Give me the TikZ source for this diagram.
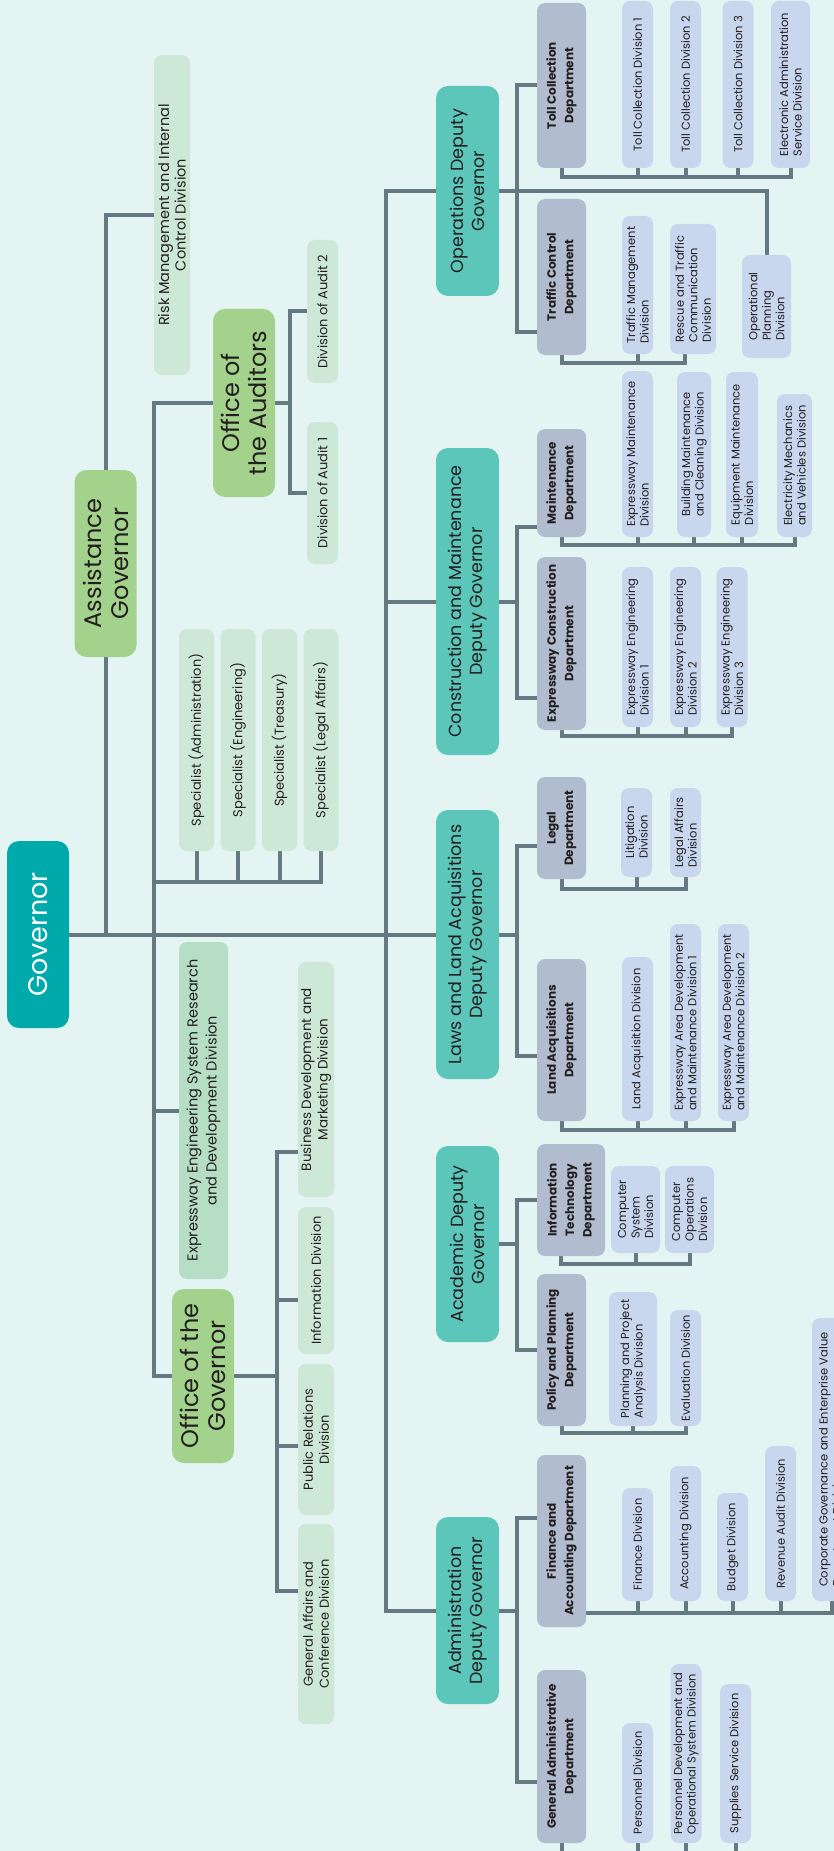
\documentclass[tikz,border=0pt]{standalone}
\usepackage{fontspec}
\setmainfont{Poppins}
\usetikzlibrary{backgrounds}

\definecolor{bgc}{HTML}{E4F4F2}
\definecolor{linec}{HTML}{657983}
\definecolor{govc}{HTML}{00AAAA}
\definecolor{depc}{HTML}{5CC6BB}
\definecolor{offc}{HTML}{A2D28B}
\definecolor{staffc}{HTML}{CEE8D7}
\definecolor{esrc}{HTML}{B6DEC4}
\definecolor{deptc}{HTML}{B1BCCE}
\definecolor{divc}{HTML}{C8D6EE}
\definecolor{textc}{HTML}{231F20}

\begin{document}
\begin{tikzpicture}[x=1pt, y=-1pt,
	link/.style={draw=linec, line width=4pt},
	box/.style={rectangle, rotate=90, rounded corners=8pt, inner sep=2pt, text=textc},
	gov node/.style={box, fill=govc, text=white, rounded corners=12pt, minimum height=62pt, font=\fontsize{27}{30}\selectfont},
	deputy node/.style={box, fill=depc, rounded corners=12pt, minimum height=63pt, align=center, font=\fontsize{17.5}{21}\selectfont},
	office node/.style={box, fill=offc, rounded corners=12pt, minimum height=62pt, align=center, font=\fontsize{24}{27}\selectfont},
	dept node/.style={box, fill=deptc, minimum height=49pt, align=center, font=\bfseries\fontsize{12}{17.5}\selectfont},
	div node/.style={box, fill=divc, minimum height=31pt, align=left, font=\fontsize{11.5}{13.5}\selectfont},
	staff node/.style={box, fill=staffc, minimum height=36pt, align=center, font=\fontsize{13}{16}\selectfont}]

	\useasboundingbox (0,0) rectangle (834,1851);

	% top level
	\node[gov node, minimum width=187pt] (gov) at (38,934.5) {Governor};
	\node[office node, minimum width=187pt] (asst) at (105.5,563.5) {Assistance\\Governor};
	\node[staff node, minimum width=320pt, font=\fontsize{14.5}{16.5}\selectfont] (risk) at (172,215) {Risk Management and Internal\\Control Division};
	\node[office node, minimum width=188pt] (aud) at (244,403) {Office of\\the Auditors};
	\node[staff node, minimum width=143pt, minimum height=31pt] (aud2) at (322.5,311.5) {Division of Audit 2};
	\node[staff node, minimum width=142pt, minimum height=31pt] (aud1) at (322.5,493) {Division of Audit 1};
	\node[staff node, minimum width=222pt, minimum height=35pt] (spec1) at (196.5,740) {Specialist (Administration)};
	\node[staff node, minimum width=222pt, minimum height=35pt] (spec2) at (238,740) {Specialist (Engineering)};
	\node[staff node, minimum width=222pt, minimum height=35pt] (spec3) at (279.5,740) {Specialist (Treasury)};
	\node[staff node, minimum width=222pt, minimum height=35pt] (spec4) at (321,740) {Specialist (Legal Affairs)};
	\node[staff node, fill=esrc, minimum width=337pt, minimum height=49pt, font=\fontsize{14.5}{19}\selectfont] (esr) at (203.5,1110.5) {Expressway Engineering System Research\\and Development Division};
	\node[office node, minimum width=174pt] (ogov) at (203,1376) {Office of the\\Governor};
	\node[staff node, minimum width=235pt, font=\fontsize{13.5}{16.5}\selectfont] (bdm) at (316,1079.5) {Business Development and\\Marketing Division};
	\node[staff node, minimum width=147pt] (inf) at (316,1280.5) {Information Division};
	\node[staff node, minimum width=151pt] (prd) at (316,1439.5) {Public Relations\\Division};
	\node[staff node, minimum width=200pt] (gac) at (316,1624) {General Affairs and\\Conference Division};

	% deputy governors
	\node[deputy node, minimum width=210pt] (ops) at (467.5,191) {Operations Deputy\\Governor};
	\node[deputy node, minimum width=307pt] (con) at (467.5,601.5) {Construction and Maintenance\\Deputy Governor};
	\node[deputy node, minimum width=269pt] (laws) at (467.5,944.5) {Laws and Land Acquisitions\\Deputy Governor};
	\node[deputy node, minimum width=196pt] (aca) at (467.5,1244) {Academic Deputy\\Governor};
	\node[deputy node, minimum width=187pt] (adm) at (467.5,1610.5) {Administration\\Deputy Governor};

	% departments
	\node[dept node, minimum width=165pt] (toll) at (561.5,85.5) {Toll Collection\\Department};
	\node[dept node, minimum width=156pt] (tctl) at (561.5,277) {Traffic Control\\Department};
	\node[dept node, minimum width=108pt] (mnt) at (561.5,483) {Maintenance\\Department};
	\node[dept node, minimum width=173pt] (ecd) at (561.5,643.5) {Expressway Construction\\Department};
	\node[dept node, minimum width=102pt] (legal) at (561.5,828) {Legal\\Department};
	\node[dept node, minimum width=162pt] (lad) at (561.5,1040) {Land Acquisitions\\Department};
	\node[dept node, minimum width=112pt, minimum height=68pt] (itd) at (571,1200) {Information\\Technology\\Department};
	\node[dept node, minimum width=152pt] (ppd) at (561.5,1350) {Policy and Planning\\Department};
	\node[dept node, minimum width=172pt] (fad) at (561.5,1541) {Finance and\\Accounting Department};
	\node[dept node, minimum width=173pt] (gad) at (561.5,1756.5) {General Administrative\\Department};

	% divisions
	\node[div node, minimum width=167pt] (tc1) at (637.5,84.5) {Toll Collection Division 1};
	\node[div node, minimum width=167pt] (tc2) at (685.5,84.5) {Toll Collection Division 2};
	\node[div node, minimum width=167pt] (tc3) at (738,84.5) {Toll Collection Division 3};
	\node[div node, minimum width=167pt, minimum height=39pt] (eas) at (790.5,84.5) {Electronic Administration\\Service Division};
	\node[div node, minimum width=138pt] (tmd) at (637.5,285) {Traffic Management\\Division};
	\node[div node, minimum width=130pt, minimum height=46pt] (rtc) at (693,289) {Rescue and Traffic\\Communication\\Division};
	\node[div node, minimum width=103pt, minimum height=49pt] (opp) at (766.5,306.5) {Operational\\Planning\\Division};
	\node[div node, minimum width=166pt] (emd) at (637.5,454) {Expressway Maintenance\\Division};
	\node[div node, minimum width=165pt, minimum height=34pt] (bmc) at (694,454.5) {Building Maintenance\\and Cleaning Division};
	\node[div node, minimum width=165pt, minimum height=32pt] (eqm) at (742,454.5) {Equipment Maintenance\\Division};
	\node[div node, minimum width=143pt, minimum height=35pt] (emv) at (794.5,465.5) {Electricity Mechanics\\and Vehicles Division};
	\node[div node, minimum width=160pt] (eed1) at (637.5,647) {Expressway Engineering\\Division 1};
	\node[div node, minimum width=160pt] (eed2) at (685.5,647) {Expressway Engineering\\Division 2};
	\node[div node, minimum width=160pt] (eed3) at (732,647) {Expressway Engineering\\Division 3};
	\node[div node, minimum width=89pt] (lit) at (636.5,832.5) {Litigation\\Division};
	\node[div node, minimum width=89pt] (lgd) at (685.5,832.5) {Legal Affairs\\Division};
	\node[div node, minimum width=164pt] (lac) at (637.5,1039) {Land Acquisition Division};
	\node[div node, minimum width=197pt] (ead1) at (685.5,1022.5) {Expressway Area Development\\and Maintenance Division 1};
	\node[div node, minimum width=197pt] (ead2) at (733.5,1022.5) {Expressway Area Development\\and Maintenance Division 2};
	\node[div node, minimum width=87pt, minimum height=49pt] (csd) at (635.5,1209.5) {Computer\\System\\Division};
	\node[div node, minimum width=87pt, minimum height=49pt] (cod) at (689.5,1209.5) {Computer\\Operations\\Division};
	\node[div node, minimum width=134pt, minimum height=48pt] (ppa) at (633,1359) {Planning and Project\\Analysis Division};
	\node[div node, minimum width=116pt] (evd) at (685.5,1368) {Evaluation Division};
	\node[div node, minimum width=113pt] (fnd) at (637.5,1544.5) {Finance Division};
	\node[div node, minimum width=135pt] (acd) at (685.5,1533.5) {Accounting Division};
	\node[div node, minimum width=108pt] (bud) at (732.5,1547) {Budget Division};
	\node[div node, minimum width=155pt] (rad) at (780.5,1523.5) {Revenue Audit Division};
	\node[div node, minimum width=283pt, minimum height=39pt] (cge) at (831.5,1459.5) {Corporate Governance and Enterprise Value\\Department Division};
	\node[div node, minimum width=120pt] (per) at (637.5,1783) {Personnel Division};
	\node[div node, minimum width=179pt] (pdo) at (686,1753.5) {Personnel Development and\\Operational System Division};
	\node[div node, minimum width=159pt] (sup) at (735.5,1763.5) {Supplies Service Division};

	% columns, bars and link points
	\coordinate (col2) at (154,0);
	\coordinate (acol) at (290,0);
	\coordinate (ocol) at (277,0);
	\coordinate (col3) at (386,0);
	\coordinate (dcol) at (517,0);
	\coordinate (spec-bar) at (0,882);
	\coordinate (tc-bar) at (0,177);
	\coordinate (tm-bar) at (0,363);
	\coordinate (mn-bar) at (0,545);
	\coordinate (ec-bar) at (0,736);
	\coordinate (lg-bar) at (0,889);
	\coordinate (la-bar) at (0,1130);
	\coordinate (it-bar) at (0,1264);
	\coordinate (pp-bar) at (0,1433);
	\coordinate (fa-bar) at (0,1613);
	\coordinate (ga-bar) at (0,1880);
	\coordinate (tctl-in) at ([yshift=-55pt]tctl);
	\coordinate (mnt-in) at ([yshift=-44pt]mnt);
	\coordinate (ecd-in) at ([yshift=-54.5pt]ecd);
	\coordinate (legal-in) at ([yshift=-18pt]legal);
	\coordinate (lad-in) at ([yshift=-16pt]lad);
	\coordinate (fad-in) at ([yshift=23pt]fad);
	\coordinate (gad-in) at ([yshift=-25.5pt]gad);
	\coordinate (bdm-in) at ([yshift=-72.5pt]bdm);
	\coordinate (inf-in) at ([yshift=-19.5pt]inf);
	\coordinate (prd-in) at ([yshift=-6.5pt]prd);
	\coordinate (gac-in) at ([yshift=33pt]gac);
	\coordinate (rtc-s) at ([xshift=-8pt]rtc);
	\coordinate (itd-s) at ([xshift=-10pt]itd);

	\begin{scope}[on background layer]
	\fill[bgc] (0,0) rectangle (834,1851);

	% governor level
	\draw[link] (gov) -- (gov -| dcol);
	\draw[link] (asst |- gov) -- (asst |- risk) -- (risk);
	\draw[link] (aud) -- (aud -| col2) -- (ogov -| col2) -- (ogov);
	\draw[link] (esr) -- (esr -| col2);
	\draw[link] (col2 |- spec-bar) -| (spec4);
	\foreach \s in {spec1,spec2,spec3}
		\draw[link] (\s) -- (\s |- spec-bar);
	\draw[link] (aud) -- (aud -| acol);
	\draw[link] (aud2) -- (aud2 -| acol) -- (aud1 -| acol) -- (aud1);
	\draw[link] (ogov) -- (ogov -| ocol);
	\draw[link] (bdm-in) -- (bdm-in -| ocol) -- (gac-in -| ocol) -- (gac-in);
	\draw[link] (inf-in) -- (inf-in -| ocol);
	\draw[link] (prd-in) -- (prd-in -| ocol);

	% deputies
	\draw[link] (ops) -- (ops -| col3) -- (adm -| col3) -- (adm);
	\draw[link] (con) -- (con -| dcol);
	\draw[link] (con) -- (con -| col3);
	\draw[link] (aca) -- (aca -| dcol);
	\draw[link] (adm) -- (adm -| dcol);
	\draw[link] (ops) -- (ops -| opp) -- (opp);

	% departments
	\draw[link] (toll) -- (toll -| dcol) -- (tctl-in -| dcol) -- (tctl-in);
	\draw[link] (mnt-in) -- (mnt-in -| dcol) -- (ecd-in -| dcol) -- (ecd-in);
	\draw[link] (legal-in) -- (legal-in -| dcol) -- (lad-in -| dcol) -- (lad-in);
	\draw[link] (itd) -- (itd -| dcol) -- (ppd -| dcol) -- (ppd);
	\draw[link] (fad-in) -- (fad-in -| dcol) -- (gad-in -| dcol) -- (gad-in);

	% divisions
	\draw[link] (toll) |- (eas |- tc-bar) -- (eas);
	\foreach \d in {tc1,tc2,tc3}
		\draw[link] (\d) -- (\d |- tc-bar);
	\draw[link] (tctl) |- (rtc-s |- tm-bar) -- (rtc-s);
	\draw[link] (tmd) -- (tmd |- tm-bar);
	\draw[link] (mnt) |- (emv |- mn-bar) -- (emv);
	\foreach \d in {emd,bmc,eqm}
		\draw[link] (\d) -- (\d |- mn-bar);
	\draw[link] (ecd) |- (eed3 |- ec-bar) -- (eed3);
	\foreach \d in {eed1,eed2}
		\draw[link] (\d) -- (\d |- ec-bar);
	\draw[link] (legal) |- (lgd |- lg-bar) -- (lgd);
	\draw[link] (lit) -- (lit |- lg-bar);
	\draw[link] (lad) |- (ead2 |- la-bar) -- (ead2);
	\foreach \d in {lac,ead1}
		\draw[link] (\d) -- (\d |- la-bar);
	\draw[link] (itd-s) |- (cod |- it-bar) -- (cod);
	\draw[link] (csd) -- (csd |- it-bar);
	\draw[link] (ppd) |- (evd |- pp-bar) -- (evd);
	\draw[link] (ppa) -- (ppa |- pp-bar);
	\draw[link] (fad) |- (cge |- fa-bar) -- (cge);
	\foreach \d in {fnd,acd,bud,rad}
		\draw[link] (\d) -- (\d |- fa-bar);
	\draw[link] (gad) |- (sup |- ga-bar) -- (sup);
	\foreach \d in {per,pdo}
		\draw[link] (\d) -- (\d |- ga-bar);
	\end{scope}
\end{tikzpicture}
\end{document}
